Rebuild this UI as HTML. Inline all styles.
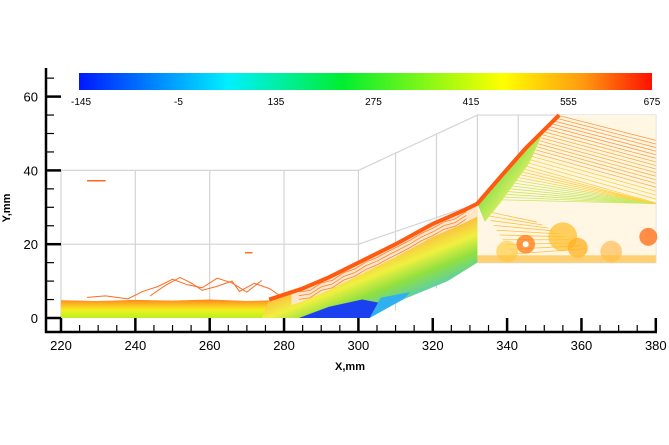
<!DOCTYPE html>
<html><head><meta charset="utf-8">
<style>
html,body{margin:0;padding:0;background:#fff;}
svg{display:block;font-family:"Liberation Sans",sans-serif;}
</style></head>
<body>
<svg id="chart" width="669" height="445" viewBox="0 0 669 445" xmlns="http://www.w3.org/2000/svg">
<defs>
<linearGradient id="cbar" x1="0" x2="1" y1="0" y2="0">
<stop offset="0" stop-color="#0018ff"/>
<stop offset="0.26" stop-color="#00f0ff"/>
<stop offset="0.46" stop-color="#00ee30"/>
<stop offset="0.74" stop-color="#ffff00"/>
<stop offset="0.88" stop-color="#ff9a10"/>
<stop offset="1" stop-color="#ff1000"/>
</linearGradient>
<linearGradient id="flat" x1="0" x2="0" y1="1" y2="0">
<stop offset="0" stop-color="#b8f020"/>
<stop offset="0.35" stop-color="#f0f020"/>
<stop offset="0.65" stop-color="#ffb020"/>
<stop offset="1" stop-color="#ff5a10"/>
</linearGradient>
<linearGradient id="ramp" gradientUnits="userSpaceOnUse" x1="400" y1="300" x2="380" y2="250">
<stop offset="0" stop-color="#60d0a0"/>
<stop offset="0.3" stop-color="#90e040"/>
<stop offset="0.6" stop-color="#f0f040"/>
<stop offset="1" stop-color="#ffb040"/>
</linearGradient>
<linearGradient id="shock" gradientUnits="userSpaceOnUse" x1="510" y1="200" x2="490" y2="185">
<stop offset="0" stop-color="#e0f060"/>
<stop offset="1" stop-color="#90e050"/>
</linearGradient>
</defs>
<g id="grid"></g>
<g id="field"></g>
<g id="axes"></g>
<g id="cb"></g>
</svg>
<script>
const xTicks=[220,240,260,280,300,320,340,360,380];
const yTicks=[0,20,40,60];
const cbLabels=[-145,-5,135,275,415,555,675];
// region outlines in data coords (mm)
const flatX=[220,230,240,250,260,270,280,290,300];
const flatTop=[4.8,4.6,4.9,4.7,5.0,4.6,4.9,5.3,6];
const rampUpperX=[276,285,292,300,310,320,328,332,338,345,354];
const rampUpperY=[5,8,11,15,20,25.5,29,31,38,46,55];
const rampLowerX=[274,290,300,312,324,332];
const rampLowerY=[0,0,0,5,10,15];
const contourX=[[227,232,238,242,246,250,254,258,262,266,270,274],[244,248,252,255,258,262,266,268,272,276,279]];
const contourY=[[5.6,6,5.2,7.2,8.5,10.5,9,8.2,10.8,9.5,7,10.2],[6,8.8,11,9.5,7.5,8.6,10,7.2,9.4,8,6]];

const NS="http://www.w3.org/2000/svg";
const px=x=>61+(x-220)*3.7175;
const py=y=>318-y*3.69;
function mk(tag,attrs,parent){const e=document.createElementNS(NS,tag);for(const k in attrs)e.setAttribute(k,attrs[k]);parent.appendChild(e);return e;}
const grid=document.getElementById('grid'),field=document.getElementById('field'),axes=document.getElementById('axes'),cb=document.getElementById('cb');
const upAt=x=>{for(let i=1;i<rampUpperX.length;i++){if(x<=rampUpperX[i]){const t=(x-rampUpperX[i-1])/(rampUpperX[i]-rampUpperX[i-1]);return rampUpperY[i-1]+t*(rampUpperY[i]-rampUpperY[i-1]);}}return rampUpperY[rampUpperY.length-1];};

// grid
const gs={stroke:"#d4d4d4","stroke-width":1.2,fill:"none"};
for(const gx of [220,240,260,280,300]){const l=mk('line',Object.assign({x1:px(gx),x2:px(gx),y1:py(0),y2:py(40)},gs),grid);}
for(const gy of [20,40]){const l=mk('line',Object.assign({x1:px(220),x2:px(300),y1:py(gy),y2:py(gy)},gs),grid);}
mk('path',Object.assign({d:`M${px(300)},${py(40)}L${px(332)},${py(55)}L${px(380)},${py(55)}L${px(380)},${py(15)}L${px(332)},${py(15)}M${px(300)},${py(20)}L${px(332)},${py(31)}L${px(380)},${py(31)}M${px(332)},${py(55)}L${px(332)},${py(15)}M${px(310)},${py(45)}L${px(310)},${py(2)}M${px(321)},${py(50)}L${px(321)},${py(8)}M${px(343)},${py(55)}L${px(343)},${py(15)}M${px(355)},${py(55)}L${px(355)},${py(15)}M${px(367)},${py(55)}L${px(367)},${py(15)}`},gs),grid);

// flat band
let d=`M${px(220)},${py(0)}`;
flatX.forEach((x,i)=>{d+=`L${px(x)},${py(flatTop[i])}`;});
d+=`L${px(300)},${py(0)}Z`;
const fb=mk('path',{d:d,fill:"url(#flat)"},field);


// upper right region: contour lines on white
const up=mk('path',{d:`M${px(332)},${py(31)}L${px(354)},${py(55)}L${px(380)},${py(55)}L${px(380)},${py(15)}L${px(332)},${py(15)}Z`,fill:"#fff6e4"},field);

for(let k=0;k<30;k++){
 const x0=333+k*0.72; const y0=upAt(x0);
 const ye=Math.max(31,y0-14+k*0.25);
 const c=k<8?"#c8e860":(k<16?"#ffd040":(k<24?"#ffb040":"#ff9a40"));
 mk('line',{x1:px(x0),y1:py(y0),x2:px(380),y2:py(ye),stroke:c,"stroke-width":0.8},field);
}
for(let k=0;k<10;k++){mk('line',{x1:px(334+k*0.8),y1:py(29-k*1.3),x2:px(348+k*1.5),y2:py(26-k*0.8),stroke:"#ffc040","stroke-width":0.8},field);}
for(const [cx,cy,r,c] of [[345,20,2.6,"#ff7a10"],[355,22,4,"#ffc030"],[359,19,2.8,"#ffb020"],[378,22,2.5,"#ff6a10"],[340,18,3,"#ffd050"],[368,18,3,"#ffc060"]]){
 const e=mk('circle',{cx:px(cx),cy:py(cy),r:r*3.6,fill:c,opacity:0.75},field);
 
}
mk('circle',{cx:px(345),cy:py(20),r:3,fill:"#fff"},field);
mk('rect',{x:px(332),y:py(17),width:px(380)-px(332),height:py(15)-py(17),fill:"#ffc040",opacity:0.7},field);

// ramp band
let r=`M${px(rampUpperX[0])},${py(rampUpperY[0])}`;
rampUpperX.forEach((x,i)=>{if(x<=332)r+=`L${px(x)},${py(rampUpperY[i])}`;});
for(let i=rampLowerX.length-1;i>=0;i--) r+=`L${px(rampLowerX[i])},${py(rampLowerY[i])}`;
r+='Z';
const rb=mk('path',{d:r,fill:"url(#ramp)"},field);

// blue separation bubble
const bb=mk('path',{d:`M${px(284)},${py(0)}L${px(303)},${py(0)}L${px(309)},${py(3.5)}L${px(301)},${py(5)}L${px(292)},${py(3)}Z`,fill:"#1a40f0"},field);

mk('path',{d:`M${px(303)},${py(0)}L${px(312)},${py(5)}L${px(314)},${py(7)}L${px(306)},${py(5.5)}Z`,fill:"#30b0f0"},field);
// light upper part with contour lines
let w=`M${px(282)},${py(upAt(282))}`;
for(let x=284;x<=332;x+=2)w+=`L${px(x)},${py(upAt(x))}`;
for(let x=332;x>=282;x-=2)w+=`L${px(x)},${py(upAt(x)-3.5)}`;
w+='Z';
const wp=mk('path',{d:w,fill:"#ffe6c8"},field);

for(let k=1;k<4;k++){let p='';for(let x=284;x<=330;x+=3)p+=(p?'L':'M')+px(x)+','+py(upAt(x)-k*1.0+Math.sin(x)*0.4);mk('path',{d:p,fill:"none",stroke:"#ff8030","stroke-width":0.8},field);}
// green strip under shock
const sk=mk('path',{d:`M${px(332)},${py(31)}L${px(338)},${py(38)}L${px(345)},${py(46)}L${px(350)},${py(51)}L${px(346)},${py(42)}L${px(338)},${py(31)}L${px(334)},${py(26)}Z`,fill:"url(#shock)"},field);

// orange edge line
let e=`M${px(rampUpperX[0])},${py(rampUpperY[0])}`;
rampUpperX.forEach((x,i)=>{e+=`L${px(x)},${py(rampUpperY[i])}`;});
const el=mk('path',{d:e,fill:"none",stroke:"#ff5a10","stroke-width":4},field);


// contour lines above band
contourX.forEach((xs,j)=>{
 let p='';xs.forEach((x,i)=>{p+=(i?'L':'M')+px(x)+','+py(contourY[j][i]);});
 const c=mk('path',{d:p,fill:"none",stroke:"#ff6a20","stroke-width":1},field);
 
});
mk('line',{x1:px(227),x2:px(232),y1:py(37.2),y2:py(37.2),stroke:"#ff6a20","stroke-width":1.5},field);
mk('line',{x1:px(269.5),x2:px(271.5),y1:py(17.7),y2:py(17.7),stroke:"#ff6a20","stroke-width":1.5},field);

// axes
mk('path',{d:"M46,68L46,332L657,332",fill:"none",stroke:"#000","stroke-width":2.5},axes);
xTicks.forEach(v=>{
 const t=mk('line',{x1:px(v),x2:px(v),y1:332,y2:318,stroke:"#000","stroke-width":2.5},axes);
 
 const l=mk('text',{x:px(v),y:350,"text-anchor":"middle","font-size":13},axes);l.textContent=v;
 
});
for(let v=225;v<380;v+=5){if(v%20===0)continue;mk('line',{x1:px(v),x2:px(v),y1:332,y2:325,stroke:"#000","stroke-width":1.2},axes);}
yTicks.forEach(v=>{
 const t=mk('line',{x1:46,x2:61,y1:py(v),y2:py(v),stroke:"#000","stroke-width":2.5},axes);
 
 const l=mk('text',{x:38,y:py(v)+5,"text-anchor":"end","font-size":13},axes);l.textContent=v;
 
});
for(let v=5;v<=66;v+=5){if(v%20===0)continue;mk('line',{x1:46,x2:54,y1:py(v),y2:py(v),stroke:"#000","stroke-width":1.2},axes);}
const xt=mk('text',{x:350,y:370,"text-anchor":"middle","font-size":11,"font-weight":"bold"},axes);xt.textContent="X,mm";

const yt=mk('text',{x:0,y:0,"text-anchor":"middle","font-size":11,"font-weight":"bold",transform:"translate(10,208) rotate(-90)"},axes);yt.textContent="Y,mm";


// colorbar
const cbr=mk('rect',{x:79,y:73,width:573,height:17,fill:"url(#cbar)"},cb);

const cbMin=cbLabels[0],cbMax=cbLabels[cbLabels.length-1];
cbLabels.forEach(v=>{
 const x=81+(v-cbMin)/(cbMax-cbMin)*571;
 const l=mk('text',{x:x,y:105,"text-anchor":"middle","font-size":10},cb);l.textContent=v;
 
});
</script>
</body></html>
